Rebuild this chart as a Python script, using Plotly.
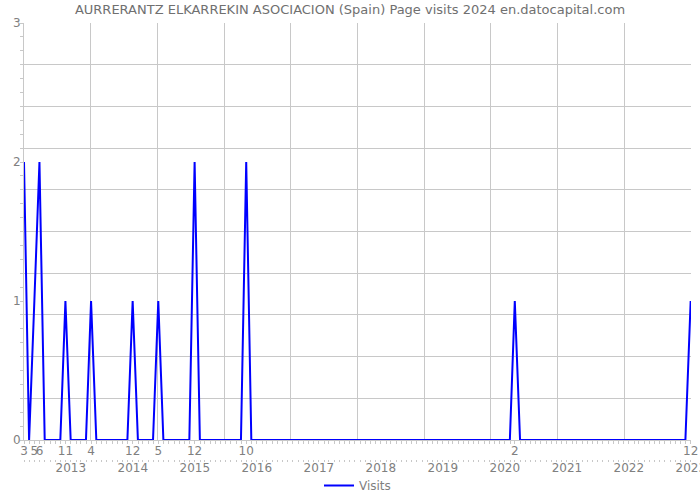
import pandas as pd
import plotly.graph_objects as go

# Monthly visits, March 2012 .. December 2022 (points at month end)
start_month = "2012-03-31"
visits_2012 = [2, 0, 1, 2, 0, 0, 0, 0, 1, 0]            # Mar..Dec
visits_2013 = [0, 0, 0, 1, 0, 0, 0, 0, 0, 0, 0, 1]
visits_2014 = [0, 0, 0, 0, 1, 0, 0, 0, 0, 0, 0, 2]
visits_2015 = [0, 0, 0, 0, 0, 0, 0, 0, 0, 2, 0, 0]
visits_2016 = [0] * 12
visits_2017 = [0] * 12
visits_2018 = [0] * 12
visits_2019 = [0] * 12
visits_2020 = [0, 1, 0, 0, 0, 0, 0, 0, 0, 0, 0, 0]
visits_2021 = [0] * 12
visits_2022 = [0, 0, 0, 0, 0, 0, 0, 0, 0, 0, 0, 1]
visits = (visits_2012 + visits_2013 + visits_2014 + visits_2015 + visits_2016
          + visits_2017 + visits_2018 + visits_2019 + visits_2020 + visits_2021
          + visits_2022)
dates = pd.date_range(start_month, periods=len(visits), freq="ME")

year_ticks = [str(y) for y in range(2013, 2024)]
y_tick_values = [0, 1, 2, 3]

title = "AURRERANTZ ELKARREKIN ASOCIACION (Spain) Page visits 2024 en.datocapital.com"

# month labels at non-zero months
nz_dates = [d for d, v in zip(dates, visits) if v != 0]
nz_text = [str(d.month) for d in nz_dates]

FONT = "DejaVu Sans"
GRID = "#c8c8c8"
TXT = "#808080"

# pixel layout helpers (plot area spans y=23..500)
H = 500 - 23
def py(pix):
    return (500 - pix) / H

fig = go.Figure()
# helper (invisible) traces so overlay axes are drawn
fig.add_trace(go.Scatter(x=[dates[0]], y=[None], xaxis="x2", yaxis="y",
                         showlegend=False, hoverinfo="skip"))
fig.add_trace(go.Scatter(x=[0], y=[None], xaxis="x3", yaxis="y",
                         showlegend=False, hoverinfo="skip"))
fig.add_trace(go.Scatter(x=[dates[0]], y=[None], xaxis="x", yaxis="y2",
                         showlegend=False, hoverinfo="skip"))
fig.add_trace(go.Scatter(x=dates, y=visits, mode="lines", name="Visits",
                         line=dict(color="#0000ff", width=2)))

x_range = [dates[0], pd.Timestamp("2023-01-02")]

fig.update_layout(
    width=700, height=500,
    margin=dict(l=24, r=9, t=23, b=0),
    paper_bgcolor="white", plot_bgcolor="white",
    font=dict(family=FONT, size=12, color=TXT),
    title=dict(text=title, x=0.5, xanchor="center", y=0.982, yanchor="middle",
               font=dict(family=FONT, size=13, color="#707070")),
    showlegend=True,
    legend=dict(orientation="h", x=0.5, xanchor="center", y=0,
                yanchor="bottom", bgcolor="rgba(0,0,0,0)",
                font=dict(family=FONT, size=12, color=TXT)),
    xaxis=dict(type="date", range=x_range, tickmode="array", tickvals=nz_dates,
               ticktext=nz_text, tickangle=0, showgrid=False, zeroline=False,
               showline=True, linecolor=GRID, linewidth=1, ticks="",
               anchor="y", tickfont=dict(size=12, color=TXT),
               ticklabeloverflow="allow",
               minor=dict(ticks="outside", ticklen=3, tickcolor=GRID,
                          dtick="M1", tick0="2012-04-01", showgrid=False),
               automargin=False),
    xaxis2=dict(type="date", range=x_range, overlaying="x", anchor="free",
                position=py(459), side="bottom", tickmode="array",
                tickvals=[pd.Timestamp(y + "-01-01") for y in year_ticks],
                ticktext=year_ticks, tickangle=0, showgrid=False,
                zeroline=False, showline=False, ticks="",
                ticklabeloverflow="allow",
                tickfont=dict(size=12, color=TXT),
                minor=dict(ticks="outside", ticklen=2, tickcolor=GRID,
                           dtick="M1", tick0="2012-04-01", showgrid=False),
                automargin=False),
    xaxis3=dict(range=[0, 10], overlaying="x", anchor="y", tickmode="array",
                tickvals=list(range(11)), showticklabels=False, showgrid=True,
                gridcolor=GRID, gridwidth=1, zeroline=False, ticks="",
                showline=False, automargin=False),
    yaxis=dict(range=[0, 3], domain=[py(440), 1], tickmode="array",
               tickvals=y_tick_values, showgrid=False, zeroline=False,
               showline=True, linecolor=GRID, linewidth=1, ticks="",
               tickfont=dict(size=12, color=TXT),
               minor=dict(ticks="outside", ticklen=3, tickcolor=GRID,
                          dtick=0.1, tick0=0, showgrid=False),
               automargin=False),
    yaxis2=dict(range=[0, 3], domain=[py(440), 1], overlaying="y",
                tickmode="array", tickvals=[0.3 * i for i in range(11)],
                showticklabels=False, showgrid=True, gridcolor=GRID,
                gridwidth=1, zeroline=False, ticks="", showline=False,
                automargin=False),
)

fig.write_html("out.html")
